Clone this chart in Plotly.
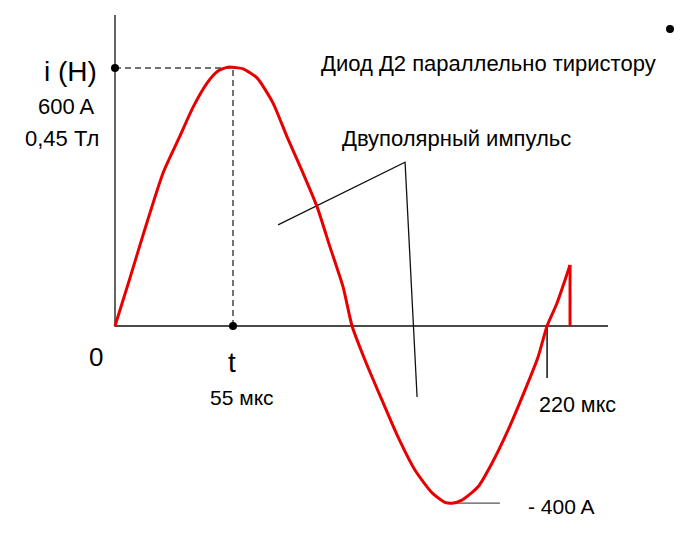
import plotly.graph_objects as go

# time (schematic мкс) and current (A)
t_curve = [0, 7, 13.1, 22.4, 30.3, 36.4, 42.9, 48.0, 52.7, 56.0, 59.7, 66.2, 73.6, 80.2, 87.6,
           94.2, 100.2, 106.3, 110.5, 116.5, 124.4, 131.9, 139.8, 147.8, 153.8, 157.1, 161.7,
           169.2, 175.7, 183.2, 191.1, 197.2, 201.4, 206.0, 212.1]
i_curve = [0, 112, 212, 356, 442, 509, 565, 593, 602, 601, 598, 577, 519, 440, 356,
           277, 184, 91, 0, -79, -172, -258, -335, -388, -410, -412, -405,
           -374, -319, -242, -149, -72, 0, 53, 142]
t_drop = [212.1, 212.1]
i_drop = [142, 0]

t_peak, i_peak = 55, 600
t_end_mark = 201.4
i_min = -412
pulse_t = [76.0, 135.2, 140.8]
pulse_i = [235, 381, -165]
axis_x_end = 229.8
axis_y_top = 723
stray_dot = (258.7, 690.7)

# pixel mapping helpers (x: 0 -> px 115, y: 0 -> px 326)
kx = 118 / 55
ky = 258 / 600
x_range = [-115 / kx, (700 - 115) / kx]
y_range = [(326 - 540) / ky, 326 / ky]

FONT = "Liberation Sans, Arial, sans-serif"
RED = "#e80000"
fig = go.Figure()

# axes
fig.add_trace(go.Scatter(x=[0, 0, axis_x_end], y=[axis_y_top, 0, 0], mode="lines",
                         line=dict(color="#111", width=1.3), hoverinfo="skip"))
# dashed guides
fig.add_trace(go.Scatter(x=[0, t_peak, t_peak], y=[i_peak, i_peak, 0], mode="lines",
                         line=dict(color="#444", width=1.5, dash="6px,4px"), hoverinfo="skip"))
# 220 мкс marker
fig.add_trace(go.Scatter(x=[t_end_mark, t_end_mark], y=[0, -121], mode="lines",
                         line=dict(color="#111", width=1.5), hoverinfo="skip"))
# -400 A leader
fig.add_trace(go.Scatter(x=[157.5, 179.4], y=[i_min, i_min], mode="lines",
                         line=dict(color="#555", width=1.3), hoverinfo="skip"))
# pulse pointer polyline
fig.add_trace(go.Scatter(x=pulse_t, y=pulse_i, mode="lines",
                         line=dict(color="#111", width=1.3), hoverinfo="skip"))
# red current curve
fig.add_trace(go.Scatter(x=t_curve, y=i_curve, mode="lines",
                         line=dict(color=RED, width=3, shape="spline", smoothing=0.6),
                         hoverinfo="skip"))
fig.add_trace(go.Scatter(x=t_drop, y=i_drop, mode="lines",
                         line=dict(color=RED, width=3), hoverinfo="skip"))
# dots
fig.add_trace(go.Scatter(x=[0, t_peak, stray_dot[0]], y=[i_peak, 0, stray_dot[1]], mode="markers",
                         marker=dict(color="#000", size=8), hoverinfo="skip"))

def ann(text, px, py, size):
    fig.add_annotation(text=text, x=px / 700, y=1 - py / 540, xref="paper", yref="paper",
                       xanchor="center", yanchor="middle", showarrow=False,
                       font=dict(family=FONT, size=size, color="#000"))

ann("i (H)", 70, 72, 28)
ann("600 A", 66, 106, 22)
ann("0,45 Тл", 62, 138, 22)
ann("0", 96, 357, 26)
ann("t", 232, 362, 28)
ann("55 мкс", 242, 397, 21)
ann("220 мкс", 577, 405, 21.5)
ann("- 400 A", 561, 506, 21)
ann("Двуполярный импульс", 456, 138, 22)
ann("Диод Д2 параллельно тиристору", 488, 63, 22)

fig.update_layout(width=700, height=540, autosize=False, showlegend=False,
                  margin=dict(l=0, r=0, t=0, b=0),
                  paper_bgcolor="white", plot_bgcolor="white",
                  xaxis=dict(range=x_range, visible=False, fixedrange=True),
                  yaxis=dict(range=y_range, visible=False, fixedrange=True))
fig.write_html("out.html")
